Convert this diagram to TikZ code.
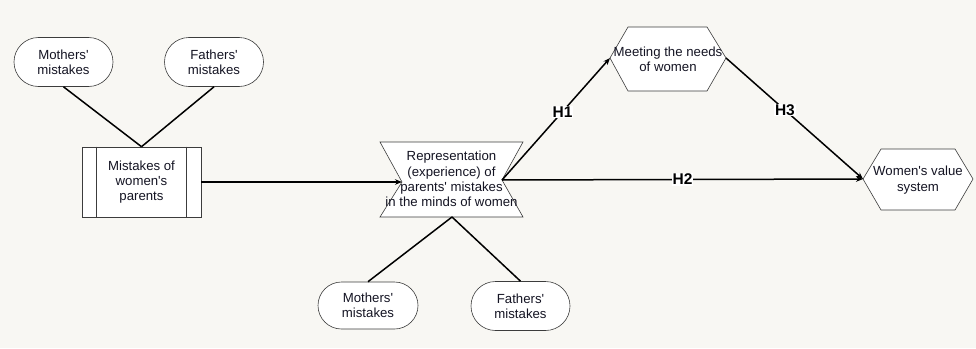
\documentclass[tikz,border=0pt]{standalone}
\usepackage{fontspec}
\setmainfont{Liberation Sans}
\newfontfamily\arial{Liberation Sans}
\usetikzlibrary{shapes.misc,arrows.meta}
\definecolor{bg}{RGB}{248,247,243}
\definecolor{edge}{RGB}{60,60,60}
\definecolor{ink}{RGB}{20,20,35}
\begin{document}
\begin{tikzpicture}[x=1pt,y=-1pt,
  txt/.style={font=\arial\fontsize{13.2}{15.3}\selectfont, align=center, text=ink, inner sep=0pt},
  oval/.style={rounded rectangle, draw=edge, fill=white, line width=0.6pt, minimum width=99pt, minimum height=49pt, txt},
  shapeline/.style={draw=edge, fill=white, line width=0.6pt},
  link/.style={line width=1.5pt, black},
  arr/.style={link, -{Stealth[length=7pt,width=5.5pt]}},
  hlab/.style={font=\arial\bfseries\fontsize{15.5}{17}\selectfont, fill=white, inner sep=0.8pt, text=black}]
\fill[bg] (0,0) rectangle (976,348);
\useasboundingbox (0,0) rectangle (976,348);

% top ovals and box
\node[oval] (mt) at (63.5,62) {Mothers'\\mistakes};
\node[oval] (ft) at (214,62) {Fathers'\\mistakes};
\node[draw=edge, fill=white, line width=0.6pt, minimum width=119pt, minimum height=70pt, txt] (mp) at (141.5,182) {Mistakes of\\women's\\parents};
\draw[edge, line width=0.6pt] ([xshift=15pt]mp.north west) -- ([xshift=15pt]mp.south west);
\draw[edge, line width=0.6pt] ([xshift=-15pt]mp.north east) -- ([xshift=-15pt]mp.south east);
\draw[link] (mt.south) -- (mp.north);
\draw[link] (ft.south) -- (mp.north);

% hourglass
\draw[shapeline] (380,142) -- (523,142) -- (502,180) -- (523,217) -- (380,217) -- (402,182) -- cycle;
\coordinate (repL) at (402,182);
\coordinate (repR) at (502,180);
\coordinate (repB) at (452,217);
\node[txt] (rep) at (451.5,179) {Representation\\(experience) of\\parents' mistakes\\in the minds of women};

% meeting hexagon
\draw[shapeline] (610,58) -- (628,27) -- (707,27) -- (726,58) -- (707,91) -- (628,91) -- cycle;
\coordinate (meetL) at (610,58);
\coordinate (meetR) at (726,58);
\node[txt] (meet) at (668,59.5) {Meeting the needs\\of women};

% women's value system hexagon
\draw[shapeline] (863,179) -- (881,149) -- (955,149) -- (973,179) -- (955,210) -- (881,210) -- cycle;
\coordinate (valL) at (863,179);
\node[txt] (val) at (918,180) {Women's value\\system};

% bottom ovals
\node[oval, minimum width=100pt, minimum height=47pt] (mb) at (368,305.5) {Mothers'\\mistakes};
\node[oval] (fb) at (520.5,306) {Fathers'\\mistakes};
\draw[link] (repB) -- (mb.north);
\draw[link] (repB) -- (fb.north);

% arrows
\draw[arr] (mp.east) -- (repL);
\draw[arr] (repR) -- (meetL) node[hlab, pos=0.56] {H1};
\draw[arr] (meetR) -- (valL) node[hlab, pos=0.43] {H3};
\draw[arr] (repR) -- (valL) node[hlab, pos=0.5] {H2};
\end{tikzpicture}
\end{document}
